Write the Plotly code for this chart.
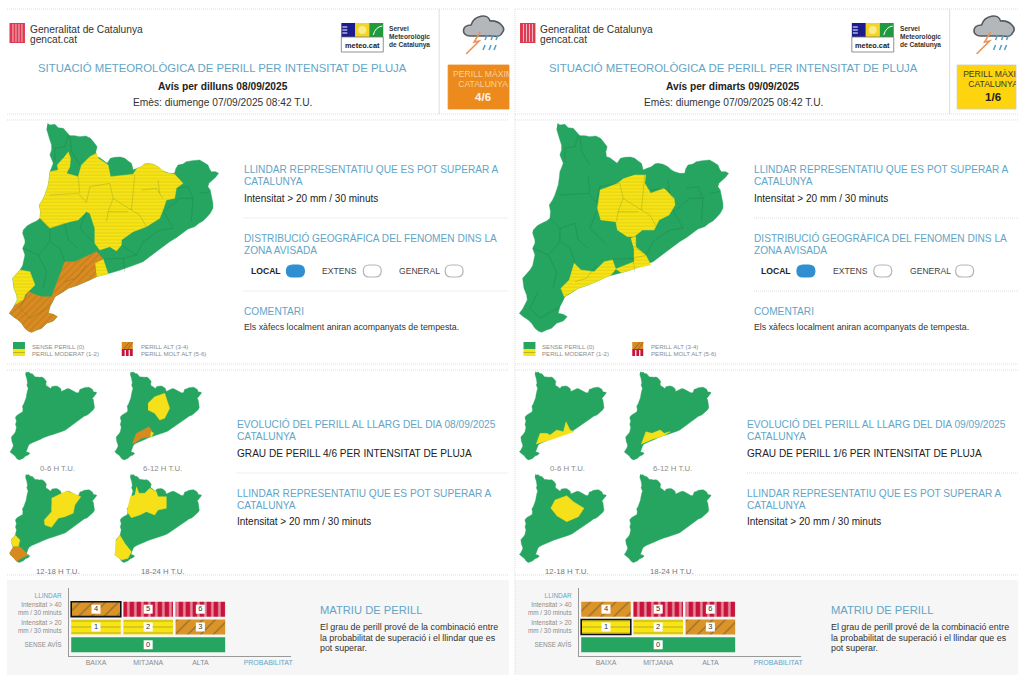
import plotly.graph_objects as go

CAT_X = [143,150,165,175,190,200,210,225,240,258,272,282,292,288,290,300,310,322,332,345,362,375,385,395,398,400,412,425,435,445,460,475,485,495,510,525,528,535,550,560,578,600,612,625,630,635,648,657,648,640,628,625,632,636,640,640,632,620,610,598,585,565,548,530,510,490,470,450,430,410,385,360,335,315,290,270,250,235,220,205,190,175,165,158,150,145,160,172,160,140,125,110,95,85,75,65,55,40,28,38,45,52,50,42,38,50,60,68,70,75,68,75,75,68,70,82,95,110,120,122,118,128,135,140,145,148,150,155,160,155,150,155,155,150,145,140]
CAT_Y = [25,30,28,38,40,52,62,62,65,63,70,82,95,110,125,128,135,145,130,127,126,130,138,145,155,165,160,155,147,145,148,155,165,170,175,175,162,150,147,140,137,135,142,150,162,170,170,175,187,195,205,215,225,245,265,280,295,308,318,325,335,342,355,368,380,395,408,425,440,448,458,466,473,478,485,495,505,510,515,520,530,538,545,560,575,595,598,605,618,625,640,645,652,648,640,625,615,605,595,582,570,555,540,520,490,478,465,452,440,420,400,385,375,355,345,332,325,318,310,290,270,255,240,225,210,190,170,158,145,132,120,105,90,75,60,42]

BIG1_YELLOW = [
    [(205,110),(212,130),(210,155),(200,175),(235,185),(245,150),(270,125),(290,115),(295,130),(325,150),(332,185),(400,178),(412,160),(425,155),(435,147),(445,145),(460,148),(475,155),(495,172),(525,178),(550,205),(530,220),(525,250),(500,255),(490,285),(480,310),(440,335),(400,350),(365,375),(365,390),(350,408),(330,395),(300,405),(285,385),(285,340),(270,295),(260,290),(235,315),(210,320),(195,325),(150,340),(120,310),(122,290),(118,270),(128,255),(135,240),(140,225),(145,210),(148,190),(150,170),(175,165),(172,150),(190,130)],
    [(285,440),(310,432),(325,477),(290,485)],
    [(38,490),(60,465),(90,470),(105,510),(75,540),(70,560),(45,570),(52,555),(50,540),(42,520)],
]
BIG1_ORANGE = [
    [(28,595),(38,582),(45,570),(70,555),(85,530),(110,540),(125,545),(165,545),(158,560),(150,575),(145,595),(160,598),(172,605),(160,618),(140,625),(125,640),(110,645),(95,652),(85,648),(75,640),(65,625),(55,615),(40,605)],
    [(155,545),(175,490),(195,440),(225,440),(260,425),(290,410),(310,432),(285,445),(290,485),(270,495),(250,505),(235,510),(220,515),(205,520),(190,530),(175,538),(165,545)],
]
BIG2_YELLOW = [
    [(373,180),(408,180),(405,205),(423,235),(463,220),(493,250),(496,270),(478,300),(448,315),(433,345),(398,345),(373,365),(353,365),(323,345),(318,320),(273,315),(263,280),(271,225),(298,215),(323,205),(343,190)],
    [(363,370),(378,365),(378,395),(408,420),(423,450),(385,458),(335,473),(318,462),(303,481),(270,495),(235,510),(205,520),(175,538),(163,545),(153,520),(178,495),(193,445),(213,465),(253,470),(283,440),(308,435),(318,462),(373,440),(373,405)],
]
BIG2_ORANGE = []

# comarca borders on the big map
BORDERS = [
    [(205,60),(195,95),(165,100),(165,140)],
    [(210,60),(215,110),(240,150)],
    [(150,240),(235,235),(260,262),(270,215),(330,205),(340,250),(325,290),(320,320)],
    [(235,185),(240,235)],
    [(405,180),(400,240),(395,285),(420,300),(440,335)],
    [(340,250),(395,285)],
    [(325,290),(385,290)],
    [(425,225),(470,220),(490,250)],
    [(475,195),(480,235)],
    [(530,220),(565,215),(580,250),(540,250),(500,285)],
    [(580,250),(575,320)],
    [(600,235),(630,230)],
    [(490,285),(520,340),(480,345)],
    [(120,310),(150,340),(195,325),(205,375),(235,400)],
    [(260,290),(240,340),(285,385)],
    [(150,340),(150,380),(115,420),(70,400)],
    [(115,420),(140,470),(130,520)],
    [(195,440),(180,400),(150,380)],
    [(365,390),(410,420),(430,380),(480,345)],
    [(310,432),(370,430),(410,420)],
    [(370,430),(375,470)],
    [(85,530),(60,580),(90,610),(150,575)],
    [(195,500),(230,490),(260,450)],
]

# small maps, regions in local units of each small map
SMALL1_0 = {"yellow": [], "orange": []}
SMALL1_1 = {
    "yellow": [[(100,95),(120,75),(150,65),(158,90),(165,110),(150,140),(135,145),(120,125),(100,115)], [(105,175),(117,185),(110,195),(103,192)]],
    "orange": [[(53,215),(65,185),(85,175),(103,165),(110,175),(105,195),(80,200),(60,215)]],
}
SMALL1_2 = {
    "yellow": [[(125,72),(155,57),(170,50),(190,57),(213,67),(195,92),(190,117),(165,127),(145,132),(125,159),(105,152),(103,137),(125,112),(125,92)], [(2,202),(15,182),(30,197),(25,217),(10,217)]],
    "orange": [[(-2,237),(10,217),(30,217),(55,242),(30,254),(20,262)]],
}
SMALL1_3 = {
    "yellow": [[(65,37),(73,57),(90,57),(105,42),(125,52),(130,67),(155,67),(155,102),(130,107),(120,122),(95,112),(75,122),(50,130),(37,112),(47,67),(60,62)], [(2,202),(15,182),(30,207),(50,232),(40,252),(20,257),(0,242)]],
    "orange": [],
}
SMALL2_0 = {"yellow": [[(50,218),(62,185),(82,185),(92,190),(112,175),(132,180),(140,150),(152,175),(164,180),(132,192),(92,205)]], "orange": []}
SMALL2_1 = {"yellow": [[(51,218),(65,180),(83,185),(108,175),(120,185),(138,180),(118,192),(88,202)]], "orange": []}
SMALL2_2 = {"yellow": [[(94,102),(107,77),(142,64),(162,82),(194,102),(177,127),(142,142),(112,124)]], "orange": []}
SMALL2_3 = {"yellow": [], "orange": []}

SMALL_LABELS = ["0-6 H T.U.", "6-12 H T.U.", "12-18 H T.U.", "18-24 H T.U."]

# risk matrix
PROB = ["BAIXA", "MITJANA", "ALTA"]
THRESH = ["SENSE AVÍS", "Intensitat > 20<br>mm / 30 minuts", "Intensitat > 40<br>mm / 30 minuts"]
CELL_COL = [1.5, 0.5, 1.5, 2.5, 0.5, 1.5, 2.5]
CELL_ROW = [0, 1, 1, 1, 2, 2, 2]
CELL_SPAN = [3, 1, 1, 1, 1, 1, 1]
CELL_LEVEL = ["0", "1", "2", "3", "4", "5", "6"]
CELL_KIND = ["green", "yellow", "yellow", "orange", "orange", "red", "red"]

FONT = "Liberation Sans"
GREEN = "#25a55f"
YELLOW = "#f8e313"
ORANGE = "#da8a1f"
BLUE_T = "#62a5c7"
GREY_T = "#8c8c8c"
DARK = "#2b2b2b"
LINE = "#dcdcdc"

fig = go.Figure()
shapes = []
annots = []


def label(x, y, text, size=10, color=DARK, anchor="left", bold=False):
    # annotations carry about 2px of padding
    if anchor == "left":
        x -= 2
    annots.append(dict(x=x, y=y, xref="x", yref="y", text="<b>%s</b>" % text if bold else text,
                       showarrow=False, xanchor=anchor, yanchor="middle", align=anchor,
                       font=dict(family=FONT, size=size, color=color)))


def rect(x0, y0, x1, y1, fill, line=None, width=1):
    shapes.append(dict(type="rect", xref="x", yref="y", x0=x0, y0=y0, x1=x1, y1=y1, fillcolor=fill,
                       line=dict(color=line or fill, width=width if line else 0), layer="below"))


def hline(x0, x1, y, color=LINE, dash="1px,1px", width=1):
    shapes.append(dict(type="line", xref="x", yref="y", x0=x0, x1=x1, y0=y, y1=y,
                       line=dict(color=color, width=width, dash=dash), layer="below"))


def path(d, fill="rgba(0,0,0,0)", line="rgba(0,0,0,0)", width=1, layer="above"):
    shapes.append(dict(type="path", xref="x", yref="y", path=d, fillcolor=fill,
                       line=dict(color=line, width=width), layer=layer))


def pill(x0, y0, x1, y1, fill, line):
    r = (y1 - y0) / 2
    d = "M %s %s L %s %s Q %s %s %s %s Q %s %s %s %s L %s %s Q %s %s %s %s Q %s %s %s %s Z" % (
        x0 + r, y0, x1 - r, y0, x1, y0, x1, y0 + r, x1, y1, x1 - r, y1, x0 + r, y1, x0, y1, x0, y0 + r, x0, y0, x0 + r, y0)
    path(d, fill, line, 1.2)


def poly(xs, ys, color, pattern=None):
    kw = {}
    if pattern:
        kw["fillpattern"] = pattern
    fig.add_trace(go.Scatter(x=xs, y=ys, mode="lines", fill="toself", fillcolor=color,
                             line=dict(color=color, width=0.4), hoverinfo="skip", showlegend=False, **kw))


YELLOW_PAT = dict(shape="-", bgcolor=YELLOW, fgcolor="#b3ad2c", size=3.4, solidity=0.2)
ORANGE_PAT = dict(shape="/", bgcolor=ORANGE, fgcolor="#a5722a", size=5, solidity=0.22)


def big_map(ox, oy, yellows, oranges):
    poly([ox + v / 3 for v in CAT_X], [oy + v / 3 for v in CAT_Y], GREEN)
    for reg in yellows:
        poly([ox + p[0] / 3 for p in reg], [oy + p[1] / 3 for p in reg], YELLOW, YELLOW_PAT)
    for reg in oranges:
        poly([ox + p[0] / 3 for p in reg], [oy + p[1] / 3 for p in reg], ORANGE, ORANGE_PAT)
    bx, by = [], []
    for b in BORDERS:
        bx += [ox + p[0] / 3 for p in b] + [None]
        by += [oy + p[1] / 3 for p in b] + [None]
    fig.add_trace(go.Scatter(x=bx, y=by, mode="lines", line=dict(color="rgba(10,80,40,0.28)", width=0.6),
                             hoverinfo="skip", showlegend=False))


def small_map(ox, oy, regions):
    poly([ox + (v - 28) * 0.415 / 3 for v in CAT_X], [oy + (v - 25) * 0.422 / 3 for v in CAT_Y], GREEN)
    for reg in regions["yellow"]:
        poly([ox + p[0] / 3 for p in reg], [oy + p[1] / 3 for p in reg], "#f6e01a")
    for reg in regions["orange"]:
        poly([ox + p[0] / 3 for p in reg], [oy + p[1] / 3 for p in reg], "#d68a20")


def logos(dx):
    # generalitat shield
    rect(9.5 + dx, 23, 25 + dx, 43, "#dc3a52")
    for sx in (13, 16, 19, 22):
        shapes.append(dict(type="line", xref="x", yref="y", x0=sx + dx, x1=sx + dx, y0=24, y1=42,
                           line=dict(color="#f3b9c2", width=1), layer="below"))
    label(30 + dx, 29, "Generalitat de Catalunya", 10.2, "#333333")
    label(30 + dx, 39.5, "gencat.cat", 10.2, "#333333")
    # meteo.cat
    rect(342 + dx, 23, 356 + dx, 37, "#1c1c8e")
    rect(356 + dx, 23, 370 + dx, 37, "#f4d526")
    rect(370 + dx, 23, 384 + dx, 37, "#1f9a3c")
    for ly in (27, 30, 33):
        hline(343 + dx, 348 + dx, ly, "#ffffff", "solid", 1)
    shapes.append(dict(type="circle", xref="x", yref="y", x0=359 + dx, x1=367 + dx, y0=26, y1=34,
                       fillcolor="#f9ec8c", line=dict(width=0), layer="below"))
    path("M %s 35 Q %s 27 %s 26" % (374 + dx, 376 + dx, 383 + dx), line="#ffffff", width=1)
    rect(342 + dx, 37, 384 + dx, 52, "#ffffff", "#777777", 0.8)
    label(363 + dx, 45, "meteo.cat", 7.4, "#222222", "center", True)
    label(390 + dx, 28.5, "Servei", 6.6, "#333333", bold=True)
    label(390 + dx, 36.5, "Meteorològic", 6.6, "#333333", bold=True)
    label(390 + dx, 45, "de Catalunya", 6.6, "#333333", bold=True)
    # cloud with lightning and rain
    path("M %s 36 C %s 36 %s 25 %s 25 C %s 15 %s 13 %s 21 C %s 20 %s 28 %s 33 C %s 36 %s 37 %s 36 Z" % tuple(
        v + dx for v in (471, 462, 462, 472, 475, 489, 491, 500, 508, 503, 502, 498, 494)), "#b4b7ba", "#55595e", 1.6)
    path("M %s 32 L %s 42 L %s 41 L %s 54" % tuple(v + dx for v in (481, 475, 480, 467)), line="#e8935a", width=1.6)
    for rx, ry in ((488, 35), (494, 35), (499, 35), (486, 45), (492, 45), (497, 45)):
        path("M %s %s L %s %s" % (rx + dx, ry, rx - 2 + dx, ry + 5), line="#4f9fc8", width=1.5)


def panel(dx, right_end, day, weekday, level, box_fill, box_line, box_x, box_ax, bigs, smalls, highlight, matrix_ax):
    left = 7 + (509 if dx else 0)
    for y in (9, 114, 120, 364, 370, 575, 581, 674):
        hline(left, right_end, y)
    rect(left, 581, right_end, 674, "#f6f6f6")
    shapes.append(dict(type="line", xref="x", yref="y", x0=440 + dx, x1=440 + dx, y0=9, y1=114,
                       line=dict(color=LINE, width=1), layer="below"))
    logos(dx)
    label(223 + dx, 67.5, "SITUACIÓ METEOROLÒGICA DE PERILL PER INTENSITAT DE PLUJA", 11.35, BLUE_T, "center")
    label(223 + dx, 86, "Avís per %s %s" % (weekday, day), 10.2, "#222222", "center", True)
    label(223 + dx, 102, "Emès: diumenge 07/09/2025 08:42 T.U.", 10.2, "#333333", "center")

    # level box
    rect(box_x, 65, box_x + 61 if dx == 0 else 1018, 109, box_fill, box_line, 0.8)

    big_map(bigs[0], 115, bigs[1], bigs[2])

    tx = 244 + dx
    label(tx, 169, "LLINDAR REPRESENTATIU QUE ES POT SUPERAR A", 10.15, BLUE_T)
    label(tx, 181, "CATALUNYA", 10.15, BLUE_T)
    label(tx, 198, "Intensitat > 20 mm / 30 minuts", 10, "#222222")
    hline(tx, 509 + dx, 218)
    label(tx, 238, "DISTRIBUCIÓ GEOGRÀFICA DEL FENOMEN DINS LA", 10.15, BLUE_T)
    label(tx, 250, "ZONA AVISADA", 10.15, BLUE_T)
    label(251 + dx, 271, "LOCAL", 8.6, "#222222", bold=True)
    pill(287 + dx, 265, 305 + dx, 277, "#2f8fd0", "#2f8fd0")
    label(323 + dx, 271, "EXTENS", 8.6, "#444444")
    pill(364 + dx, 265, 382 + dx, 277, "#ffffff", "#b5b5b5")
    label(400 + dx, 271, "GENERAL", 8.6, "#444444")
    pill(446 + dx, 265, 464 + dx, 277, "#ffffff", "#b5b5b5")
    hline(tx, 509 + dx, 291)
    label(tx, 311, "COMENTARI", 10.15, BLUE_T)
    label(tx, 327, "Els xàfecs localment aniran acompanyats de tempesta.", 8.8, "#333333")

    # legend swatches
    rect(13 + dx, 342, 25 + dx, 349, GREEN)
    rect(13 + dx, 349, 25 + dx, 356, YELLOW)
    hline(13 + dx, 25 + dx, 352.5, "#b0a82a", "solid", 0.8)
    rect(122 + dx, 342, 133 + dx, 349, ORANGE)
    path("M %s 349 L %s 342 M %s 349 L %s 342" % (124 + dx, 130 + dx, 128 + dx, 133 + dx), line="#9c6a22", width=1)
    rect(122 + dx, 349, 133 + dx, 356, "#c8143a")
    for sx in (125.5, 129.5):
        shapes.append(dict(type="line", xref="x", yref="y", x0=sx + dx, x1=sx + dx, y0=350, y1=356,
                           line=dict(color="#ffffff", width=1.2), layer="above"))
    label(32 + dx, 346, "SENSE PERILL (0)", 6.1, GREY_T)
    label(32 + dx, 353.5, "PERILL MODERAT (1-2)", 6.1, GREY_T)
    label(141 + dx, 346, "PERILL ALT (3-4)", 6.1, GREY_T)
    label(141 + dx, 353.5, "PERILL MOLT ALT (5-6)", 6.1, GREY_T)

    # small maps
    for i, (ox, oy) in enumerate(((10, 371.7), (115, 371.7), (10, 474.3), (115, 474.3))):
        small_map(ox + bigs[3], oy, smalls[i])
        label(ox + 48 + bigs[3], 468 if i < 2 else 571, SMALL_LABELS[i], 7.8, GREY_T if i < 2 else "#777777", "center")

    tx = 237 + dx
    label(tx, 424, "EVOLUCIÓ DEL PERILL AL LLARG DEL DIA %s" % day, 10.2, BLUE_T)
    label(tx, 436, "CATALUNYA", 10.2, BLUE_T)
    label(tx, 453, "GRAU DE PERILL %s PER INTENSITAT DE PLUJA" % level, 10.1, "#222222")
    hline(tx, 509 + dx, 473)
    label(tx, 493, "LLINDAR REPRESENTATIU QUE ES POT SUPERAR A", 10.15, BLUE_T)
    label(tx, 505, "CATALUNYA", 10.15, BLUE_T)
    label(tx, 521, "Intensitat > 20 mm / 30 minuts", 10, "#222222")

    tx = 321 + dx
    label(tx, 610, "MATRIU DE PERILL", 11.2, BLUE_T)
    label(tx, 627, "El grau de perill prové de la combinació entre", 8.9, "#333333")
    label(tx, 638, "la probabilitat de superació i el llindar que es", 8.9, "#333333")
    label(tx, 648, "pot superar.", 8.9, "#333333")

    # matrix, drawn as bars on its own axes
    pat = {"green": ("", "#ffffff", GREEN, 8, 0.2),
           "yellow": ("-", "#8f8a20", YELLOW, 6, 0.12),
           "orange": ("/", "#8d6428", "#dc9426", 9, 0.14),
           "red": ("|", "#ffffff", "#c8143a", 7, 0.36)}
    fig.add_trace(go.Bar(
        x=CELL_COL, y=[0.84] * 7, base=[r + 0.07 for r in CELL_ROW], width=[s - 0.05 for s in CELL_SPAN],
        marker=dict(color=[pat[k][2] for k in CELL_KIND],
                    line=dict(color=["#111111" if i == highlight else "rgba(0,0,0,0)" for i in range(7)],
                              width=[1.6 if i == highlight else 0 for i in range(7)]),
                    pattern=dict(shape=[pat[k][0] for k in CELL_KIND], fgcolor=[pat[k][1] for k in CELL_KIND],
                                 bgcolor=[pat[k][2] for k in CELL_KIND], size=[pat[k][3] for k in CELL_KIND],
                                 solidity=[pat[k][4] for k in CELL_KIND])),
        hoverinfo="skip", showlegend=False, xaxis=matrix_ax[0], yaxis=matrix_ax[1]))
    fig.add_trace(go.Scatter(
        x=CELL_COL, y=[r + 0.49 for r in CELL_ROW], mode="markers+text", text=CELL_LEVEL, textposition="middle center",
        textfont=dict(family=FONT, size=7.5, color="#333333"), marker=dict(symbol="square", size=9, color="#ffffff"),
        cliponaxis=False, hoverinfo="skip", showlegend=False, xaxis=matrix_ax[0], yaxis=matrix_ax[1]))

    # level box text, cut off at the panel edge like in the source page
    fig.add_trace(go.Scatter(
        x=[box_ax[2]] * 3, y=[75, 85, 98], mode="text", text=box_ax[3], textposition="middle center",
        textfont=dict(family=FONT, size=[8.6, 8.6, 11.5], color=box_ax[4]),
        hoverinfo="skip", showlegend=False, xaxis=box_ax[0], yaxis=box_ax[1]))


panel(0, 510, "08/09/2025", "dilluns", "4/6", "#ec8a1e", "#ec8a1e", 449, ("x4", "y4", 484, ["PERILL MÀXIM", "CATALUNYA", "<b>4/6</b>"], ["#f8cf9c", "#f8cf9c", "#fff2e0"]),
      (0, BIG1_YELLOW, BIG1_ORANGE, 0), [SMALL1_0, SMALL1_1, SMALL1_2, SMALL1_3], 4, ("x2", "y2"))
panel(511.5, 1020, "09/09/2025", "dimarts", "1/6", "#fdd40e", "#c9c9c9", 959, ("x5", "y5", 995, ["PERILL MÀXIM", "CATALUNYA", "<b>1/6</b>"], ["#3a3a2a", "#3a3a2a", "#222222"]),
      (511, BIG2_YELLOW, BIG2_ORANGE, 510.5), [SMALL2_0, SMALL2_1, SMALL2_2, SMALL2_3], 1, ("x3", "y3"))

# right panel's side border
shapes.append(dict(type="line", xref="x", yref="y", x0=516, x1=516, y0=9, y1=674, line=dict(color=LINE, width=1, dash="1px,1px"), layer="below"))

hidden = dict(visible=False, fixedrange=True)


def matrix_axes(dx):
    x0, x1 = 69 + dx, 292 + dx
    xa = dict(domain=[x0 / 1024, x1 / 1024], range=[-0.02, 4.245], tickvals=[0.5, 1.5, 2.5, 3.8],
              ticktext=PROB + ['<span style="color:%s">PROBABILITAT</span>' % BLUE_T], ticks="",
              tickfont=dict(family=FONT, size=7, color=GREY_T), showgrid=False,
              zeroline=False, showline=True, linecolor="#999999", linewidth=1, tickangle=0)
    ya = dict(domain=[1 - 656 / 683, 1 - 588 / 683], range=[-0.14, 3.68], tickvals=[0.5, 1.5, 2.5, 3.27],
              ticktext=THRESH + ['<span style="color:%s">LLINDAR</span>' % BLUE_T], ticks="outside", ticklen=5,
              tickcolor="rgba(0,0,0,0)", tickfont=dict(family=FONT, size=6.4, color=GREY_T), showgrid=False,
              zeroline=False, showline=True, linecolor="#999999", linewidth=1)
    return xa, ya


xa2, ya2 = matrix_axes(0)
xa3, ya3 = matrix_axes(511)
fig.update_layout(
    width=1024, height=683, margin=dict(l=0, r=0, t=0, b=0), autosize=False,
    paper_bgcolor="#ffffff", plot_bgcolor="rgba(0,0,0,0)", barmode="overlay", showlegend=False,
    xaxis=dict(domain=[0, 1], range=[0, 1024], **hidden),
    yaxis=dict(domain=[0, 1], range=[683, 0], **hidden),
    xaxis2=dict(anchor="y2", **xa2), yaxis2=dict(anchor="x2", **ya2),
    xaxis3=dict(anchor="y3", **xa3), yaxis3=dict(anchor="x3", **ya3),
    xaxis4=dict(domain=[449 / 1024, 510 / 1024], range=[449, 510], anchor="y4", **hidden),
    yaxis4=dict(domain=[1 - 109 / 683, 1 - 65 / 683], range=[109, 65], anchor="x4", **hidden),
    xaxis5=dict(domain=[959 / 1024, 1018 / 1024], range=[959, 1018], anchor="y5", **hidden),
    yaxis5=dict(domain=[1 - 109 / 683, 1 - 65 / 683], range=[109, 65], anchor="x5", **hidden),
    shapes=shapes, annotations=annots,
)

fig.write_html("out.html", post_script="document.body.style.margin='0';", config={"displayModeBar": False})
